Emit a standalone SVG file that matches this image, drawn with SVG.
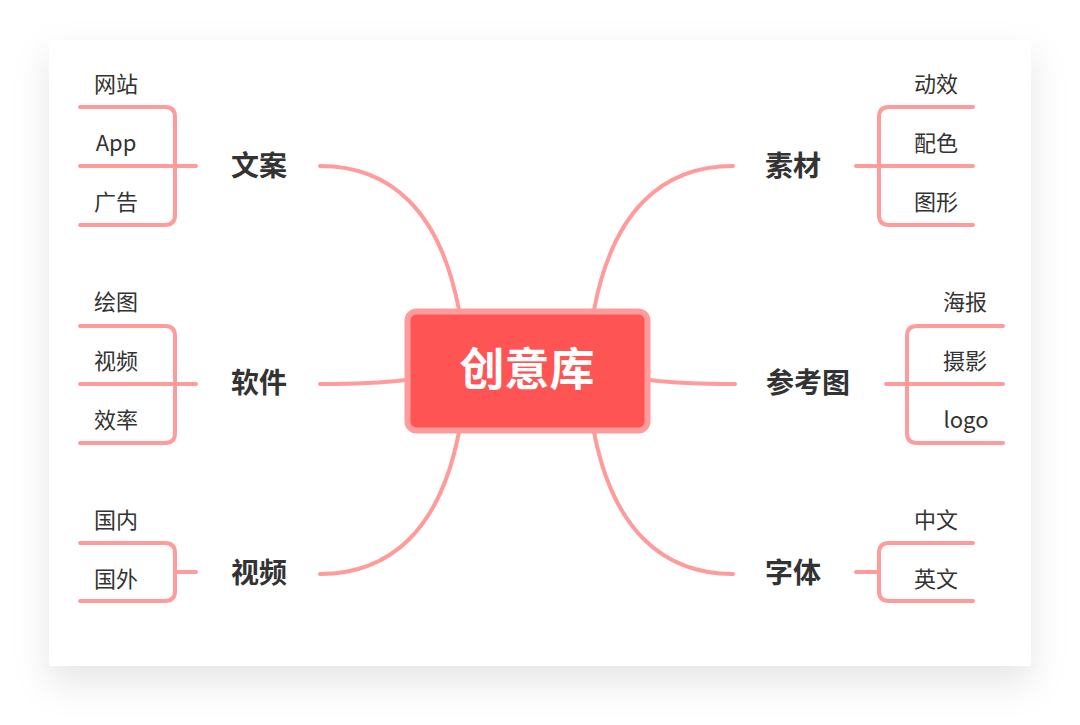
<svg xmlns="http://www.w3.org/2000/svg" width="1080" height="725" viewBox="0 0 1080 725">
<defs>
<filter id="sh" x="-10%" y="-10%" width="120%" height="125%">
<feDropShadow dx="0" dy="16" stdDeviation="18" flood-color="#000" flood-opacity="0.1"/>
</filter>
<style>
.ln{fill:none;stroke:#FF9B9B;stroke-width:4;stroke-linecap:round;stroke-linejoin:round}
.it{font-family:"Noto Sans CJK SC","Noto Sans",sans-serif;font-size:22px;fill:#333;text-anchor:middle}
.lb{font-family:"Noto Sans CJK SC","Noto Sans",sans-serif;font-size:28px;font-weight:bold;fill:#333;text-anchor:middle}
.ct{font-family:"Noto Sans CJK SC","Noto Sans",sans-serif;font-size:45px;font-weight:bold;fill:#fff;text-anchor:middle}
</style>
</defs>
<rect width="1080" height="725" fill="#fff"/>
<rect x="49" y="40" width="982" height="626" fill="#fff" filter="url(#sh)"/>
<g id="connectors">
<path class="ln" d="M320,166 C390,166 440,210 459,310"/>
<path class="ln" d="M733,166 C663,166 613,210 594,310"/>
<path class="ln" d="M320,574 C390,574 440,530 459,432"/>
<path class="ln" d="M733,574 C663,574 613,530 594,432"/>
<path class="ln" d="M320,384 Q372,384 406,380"/>
<path class="ln" d="M735,384 Q683,384 649,380"/>
</g>
<g id="center">
<rect x="407.5" y="311.5" width="240" height="119" rx="9" fill="#FF5454" stroke="#FF9B9B" stroke-width="6"/>
<text class="ct" x="527" y="386">创意库</text>
</g>
<g id="wenan">
<path class="ln" d="M80,107 H165 Q175,107 175,117 V215 Q175,225 165,225 H80 M80,166 H196"/>
<text class="lb" x="259" y="176">文案</text>
<text class="it" x="116" y="92">网站</text>
<text class="it" x="116" y="151">App</text>
<text class="it" x="116" y="210">广告</text>
</g>
<g id="ruanjian">
<path class="ln" d="M80,326 H165 Q175,326 175,336 V433 Q175,443 165,443 H80 M80,384 H196"/>
<text class="lb" x="259" y="393">软件</text>
<text class="it" x="116" y="310">绘图</text>
<text class="it" x="116" y="369">视频</text>
<text class="it" x="116" y="428">效率</text>
</g>
<g id="shipin">
<path class="ln" d="M80,543 H165 Q175,543 175,553 V591 Q175,601 165,601 H80 M175,572 H196"/>
<text class="lb" x="259" y="583">视频</text>
<text class="it" x="116" y="528">国内</text>
<text class="it" x="116" y="587">国外</text>
</g>
<g id="sucai">
<path class="ln" d="M973,107 H889 Q879,107 879,117 V215 Q879,225 889,225 H973 M973,166 H856"/>
<text class="lb" x="793" y="176">素材</text>
<text class="it" x="936" y="92">动效</text>
<text class="it" x="936" y="151">配色</text>
<text class="it" x="936" y="210">图形</text>
</g>
<g id="cankaotu">
<path class="ln" d="M1003,326 H917 Q907,326 907,336 V433 Q907,443 917,443 H1003 M1003,384 H886"/>
<text class="lb" x="808" y="393">参考图</text>
<text class="it" x="965" y="310">海报</text>
<text class="it" x="965" y="369">摄影</text>
<text class="it" x="966" y="428">logo</text>
</g>
<g id="ziti">
<path class="ln" d="M973,543 H889 Q879,543 879,553 V591 Q879,601 889,601 H973 M879,572 H856"/>
<text class="lb" x="793" y="583">字体</text>
<text class="it" x="936" y="528">中文</text>
<text class="it" x="936" y="587">英文</text>
</g>
</svg>
